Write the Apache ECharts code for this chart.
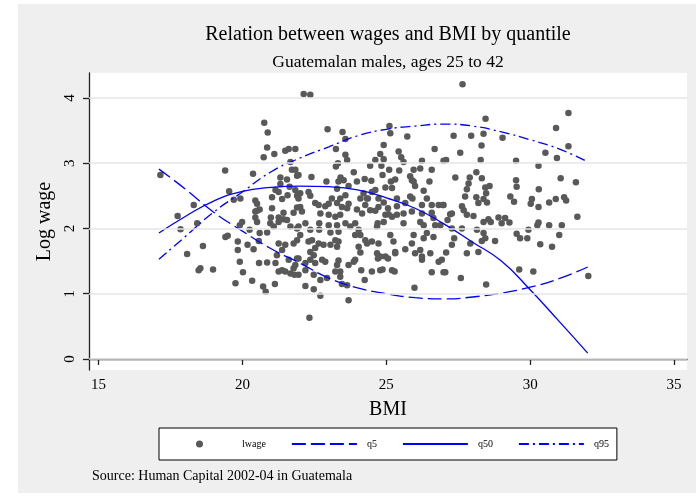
<!DOCTYPE html>
<html>
<head>
<meta charset="utf-8">
<script src="https://cdn.jsdelivr.net/npm/echarts@6/dist/echarts.min.js"></script>
<style>
html, body { margin: 0; padding: 0; background: #fff; }
#chart { width: 696px; height: 503px; }
</style>
</head>
<body>
<div id="chart"></div>
<script>
var FONT = "'Liberation Serif', 'Times New Roman', serif";

var xTicks = [15, 20, 25, 30, 35];
var yTicks = [0, 1, 2, 3, 4];

// quantile fits
var fitBmi = [17.1, 18, 19, 20, 21, 22, 23, 24, 25, 26, 27, 28, 29, 30, 31, 32];
var q5 = [2.91, 2.61, 2.25, 1.96, 1.69, 1.47, 1.24, 1.09, 1.00, 0.94, 0.92, 0.95, 1.01, 1.10, 1.23, 1.41];
var q50 = [1.93, 2.18, 2.42, 2.57, 2.63, 2.65, 2.64, 2.59, 2.47, 2.31, 2.07, 1.79, 1.50, 1.06, 0.58, 0.09];
var q95 = [1.53, 1.87, 2.25, 2.56, 2.87, 3.08, 3.25, 3.42, 3.52, 3.57, 3.60, 3.57, 3.48, 3.36, 3.22, 3.02];

// [BMI, log wage]
var lwage = [
    [20.76,3.62],[20.88,3.47],[20.86,3.24],[20.74,3.09],[21.11,3.14],[21.49,3.19],[21.61,3.22],[21.84,3.22],
    [17.15,2.82],[19.4,2.89],[20.37,2.84],[21.67,3.02],[21.72,2.9],[21.84,2.9],
    [21.32,2.78],[21.55,2.75],[21.9,2.81],[21.32,2.68],[21.64,2.64],[21.15,2.59],[21.26,2.56],[21.9,2.5],[21.03,2.48],[21.38,2.45],[21.57,2.51],
    [19.54,2.57],[19.93,2.46],[19.7,2.44],[20.45,2.43],[20.51,2.38],[18.31,2.36],[17.75,2.19],
    [21.03,2.31],[21.43,2.24],[21.9,2.32],[20.51,2.27],[20.6,2.29],[20.45,2.17],[20.99,2.17],[21.26,2.17],[21.43,2.14],[21.78,2.24],
    [17.85,1.99],[18.43,2.08],[18.08,1.61],[18.63,1.73],[18.48,1.36],[18.54,1.39],[18.98,1.37],[19.41,1.87],[19.49,1.89],[19.84,1.8],
    [19.84,1.67],[19.91,1.49],[20.02,1.33],[19.76,1.16],[20.34,1.2],[20.72,1.11],[20.81,1.03],[21.13,1.15],
    [19.91,2.05],[19.99,2.1],[20.25,1.98],[20.45,2.26],[20.51,2.1],[20.6,1.93],[20.86,1.94],[20.97,2.08],[21.09,2.03],[21.26,2.1],
    [20.18,1.75],[20.39,1.68],[20.57,1.81],[20.86,1.48],[20.58,1.47],[21.26,1.77],[21.49,1.75],[21.38,1.67],
    [21.2,1.59],[21.15,1.47],[21.26,1.34],[21.38,1.36],[21.49,1.34],[21.67,1.31],[21.78,1.39],[21.81,1.29],[21.61,1.52],[21.9,1.54],
    [21.55,2.13],[21.67,2.03],[21.9,2.0],[21.9,1.82],[21.78,1.77],[21.84,2.59],
    [22.13,4.06],[22.36,4.05],[22.96,3.52],[23.48,3.48],[23.58,3.37],[23.25,3.22],
    [25.11,3.57],[25.14,3.46],[25.73,3.41],[24.91,3.28],[26.68,3.22],[25.43,3.18],[25.52,3.09],[25.6,3.02],
    [23.58,3.13],[23.64,3.05],[24.79,3.14],[24.91,3.06],[24.62,3.05],[26.24,3.04],[26.99,3.04],[23.32,3.0],[23.25,2.95],[24.44,2.96],
    [24.83,2.96],[25.1,2.9],[25.45,2.89],[25.95,2.9],[26.18,2.92],[26.58,2.9],[23.87,2.86],[21.95,2.82],[22.4,2.79],
    [24.87,2.82],[25.31,2.75],[25.83,2.8],[25.89,2.74],[23.41,2.78],[23.52,2.74],[23.34,2.72],
    [22.92,2.72],[23.98,2.72],[24.25,2.76],[24.48,2.73],[25.16,2.72],[25.2,2.62],[24.97,2.63],[25.95,2.72],[26.0,2.65],[26.3,2.58],[26.5,2.72],
    [23.69,2.65],[23.29,2.61],[24.62,2.59],[24.5,2.56],[24.36,2.46],[24.21,2.54],
    [22.01,2.54],[22.3,2.56],[22.36,2.5],[21.95,2.46],
    [22.53,2.39],[22.65,2.36],[22.88,2.34],[23.0,2.38],[22.01,2.33],[22.07,2.26],
    [23.11,2.46],[23.4,2.46],[23.58,2.51],[23.29,2.39],[23.46,2.33],[23.69,2.38],[23.64,2.31],
    [24.73,2.46],[24.91,2.4],[25.06,2.31],[24.73,2.33],[24.62,2.27],[25.37,2.46],[25.37,2.34],[25.66,2.39],[25.83,2.49],[25.91,2.46],
    [26.24,2.36],[26.41,2.46],[26.58,2.36],[26.82,2.36],[26.99,2.36],[24.1,2.46],[24.33,2.46],
    [23.98,2.29],[24.16,2.23],[24.44,2.28],[24.27,2.36],[22.71,2.23],[23.0,2.21],[23.23,2.18],[23.4,2.21],
    [26.24,2.23],[26.58,2.24],[25.2,2.18],[24.97,2.21],[25.6,2.23],
    [24.7,2.08],[24.91,2.1],[24.68,2.03],[25.08,2.22],[25.37,2.21],[25.89,2.26],[25.6,2.08],
    [26.18,2.1],[26.3,2.05],[26.64,2.16],[26.7,2.05],[26.88,2.05],
    [22.19,2.08],[21.95,2.03],[22.01,1.9],[22.36,1.98],[22.42,1.82],[22.67,2.08],[22.67,1.98],
    [23.0,2.05],[23.29,2.05],[23.34,1.95],[23.58,2.08],[23.75,2.03],[23.92,2.08],[24.04,1.98],[23.92,1.9],[24.1,1.9],[23.06,1.94],
    [22.3,1.8],[22.65,1.77],[22.82,1.75],[23.06,1.75],[23.29,1.72],[23.23,1.82],[23.34,1.8],
    [22.36,1.64],[22.48,1.59],[22.53,1.7],[21.95,1.54],[21.84,1.44],[22.19,1.47],[22.36,1.52],
    [22.77,1.52],[22.88,1.49],[22.53,1.47],[23.34,1.51],[23.29,1.44],[23.23,1.34],[23.4,1.34],[23.4,1.26],
    [23.69,1.44],[23.87,1.49],[23.92,1.52],
    [24.04,1.72],[24.1,1.63],[24.27,1.82],[24.33,1.77],[24.5,1.8],[24.73,1.77],[24.68,1.62],[24.79,1.57],[24.71,1.54],
    [25.14,1.9],[25.25,1.8],[24.97,1.57],[25.06,1.54],[25.31,1.64],[25.31,1.62],
    [25.66,1.68],[25.89,1.77],[25.95,1.9],[26.0,1.62],[26.18,1.67],[26.24,1.57],[26.3,1.85],[26.41,1.93],[26.53,1.62],[26.64,1.87],[26.24,1.52],
    [26.82,1.49],[26.93,1.52],
    [22.19,1.36],[21.95,1.29],[22.48,1.29],[22.71,1.21],[22.94,1.24],[22.19,1.12],[22.48,1.07],[22.71,0.97],
    [23.46,1.15],[23.64,1.13],[23.69,0.9],[22.33,0.63],
    [24.13,1.36],[24.25,1.21],[24.5,1.34],[24.79,1.36],[24.87,1.37],[25.2,1.36],[25.29,1.34],[25.98,1.09],[26.58,1.33],[26.99,1.33],
    [27.65,4.21],[31.33,3.77],[28.45,3.68],[30.9,3.54],[27.34,3.42],[27.95,3.42],[28.38,3.45],[29.04,3.39],[28.31,3.27],
    [27.57,3.16],[27.08,3.05],[28.28,3.05],[29.51,3.04],[31.33,3.26],[30.93,3.08],[30.53,3.16],[30.29,2.96],
    [27.4,2.78],[27.9,2.78],[28.32,2.77],[28.13,2.86],[27.86,2.69],[27.8,2.6],[28.44,2.63],[28.59,2.65],[28.47,2.54],
    [29.51,2.74],[29.53,2.64],[31.06,2.77],[31.59,2.71],[30.3,2.6],
    [27.74,2.49],[28.13,2.48],[28.38,2.45],[28.2,2.39],[28.5,2.4],[27.63,2.34],[27.69,2.28],[27.28,2.23],[27.8,2.21],[28.03,2.19],[26.97,2.36],
    [29.31,2.49],[29.44,2.41],[30.06,2.45],[30.02,2.38],[30.29,2.33],[30.66,2.4],[30.89,2.45],[31.18,2.48],[31.25,2.43],
    [31.64,2.18],[28.55,2.14],[28.9,2.17],[29.13,2.16],
    [27.22,2.22],[27.13,2.13],[27.28,2.0],[27.63,2.0],[28.15,1.98],[28.38,2.1],[28.63,2.1],[29.01,2.08],[29.28,2.09],
    [28.38,1.93],[28.32,1.81],[28.44,1.85],[28.78,1.81],[27.36,1.85],[27.28,1.75],[27.08,1.63],[27.05,1.33],
    [27.92,1.77],[27.8,1.62],[28.2,1.64],[27.59,1.24],[28.47,1.14],
    [29.53,1.92],[29.65,1.85],[29.9,1.85],[29.94,1.98],[30.25,2.05],[30.29,2.09],[30.66,2.05],[31.1,2.05],[31.01,1.9],[30.35,1.76],[30.76,1.72],
    [29.62,1.37],[30.11,1.34],[32.02,1.27]
];

function fitLine(name, ys, dash) {
    return {
        name: name,
        type: 'line',
        smooth: true,
        symbol: 'none',
        showSymbol: false,
        z: 4,
        data: fitBmi.map((x, i) => [x, ys[i]]),
        lineStyle: { color: '#0000ff', width: 1.3, type: dash },
        itemStyle: { color: '#0000ff' }
    };
}

var myChart = echarts.init(document.getElementById('chart'));

var axisText = { color: '#000', fontFamily: FONT, fontSize: 15 };

var option = {
    animation: false,
    backgroundColor: '#fff',
    graphic: [
        { type: 'rect', z: -10, shape: { x: 18, y: 4, width: 678, height: 489 }, style: { fill: '#efefef' } },
        { type: 'text', x: 388, y: 35, style: { text: 'Relation between wages and BMI by quantile', fill: '#000', font: '20px ' + FONT, textAlign: 'center', textVerticalAlign: 'middle' } },
        { type: 'text', x: 388, y: 62, style: { text: 'Guatemalan males, ages 25 to 42', fill: '#000', font: '17.5px ' + FONT, textAlign: 'center', textVerticalAlign: 'middle' } },
        { type: 'text', x: 92, y: 476, style: { text: 'Source: Human Capital 2002-04 in Guatemala', fill: '#000', font: '14px ' + FONT, textVerticalAlign: 'middle' } }
    ],
    grid: {
        left: 89, top: 73, right: 9, bottom: 133,
        show: true, backgroundColor: '#fff', borderWidth: 0
    },
    legend: {
        left: 159, top: 428,
        data: [
            { name: 'lwage' },
            { name: 'q5', itemStyle: { opacity: 0 } },
            { name: 'q50', itemStyle: { opacity: 0 } },
            { name: 'q95', itemStyle: { opacity: 0 } }
        ],
        itemWidth: 65, itemHeight: 7, itemGap: 25,
        padding: [11, 8, 11, 37],
        backgroundColor: '#fff', borderColor: '#000', borderWidth: 1,
        textStyle: { color: '#000', fontFamily: FONT, fontSize: 10, padding: [0, 0, 0, 5] }
    },
    xAxis: {
        type: 'value',
        min: 14.67, max: 35.45,
        name: 'BMI', nameLocation: 'middle', nameGap: 30,
        nameTextStyle: { color: '#000', fontFamily: FONT, fontSize: 20 },
        axisLine: { show: true, lineStyle: { color: '#222', width: 1.3 } },
        axisTick: { show: true, length: 6, customValues: xTicks, lineStyle: { color: '#222', width: 1.3 } },
        axisLabel: Object.assign({ margin: 8, customValues: xTicks }, axisText),
        splitLine: { show: false }
    },
    yAxis: {
        type: 'value',
        min: -0.169, max: 4.383,
        name: 'Log wage', nameLocation: 'middle', nameGap: 32, nameRotate: 90,
        nameTextStyle: { color: '#000', fontFamily: FONT, fontSize: 20 },
        axisLine: { show: true, lineStyle: { color: '#222', width: 1.3 } },
        axisTick: { show: true, length: 6, customValues: yTicks, lineStyle: { color: '#222', width: 1.3 } },
        axisLabel: Object.assign({ margin: 11, rotate: 90, customValues: yTicks }, axisText),
        splitLine: { show: false }
    },
    series: [
        {
            name: 'grid',
            type: 'line',
            data: [],
            z: 1,
            silent: true,
            markLine: {
                silent: true,
                symbol: 'none',
                label: { show: false },
                lineStyle: { color: '#e6e6e6', width: 1.5, type: 'solid' },
                data: yTicks.map(v => ({ yAxis: v }))
            }
        },
        {
            name: 'lwage',
            type: 'scatter',
            z: 2,
            symbol: 'circle',
            symbolSize: 6.5,
            itemStyle: { color: '#595959', opacity: 1 },
            data: lwage
        },
        fitLine('q5', q5, [14, 5]),
        fitLine('q50', q50, 'solid'),
        fitLine('q95', q95, [10, 4, 2, 4])
    ]
};

myChart.setOption(option);
</script>
</body>
</html>
